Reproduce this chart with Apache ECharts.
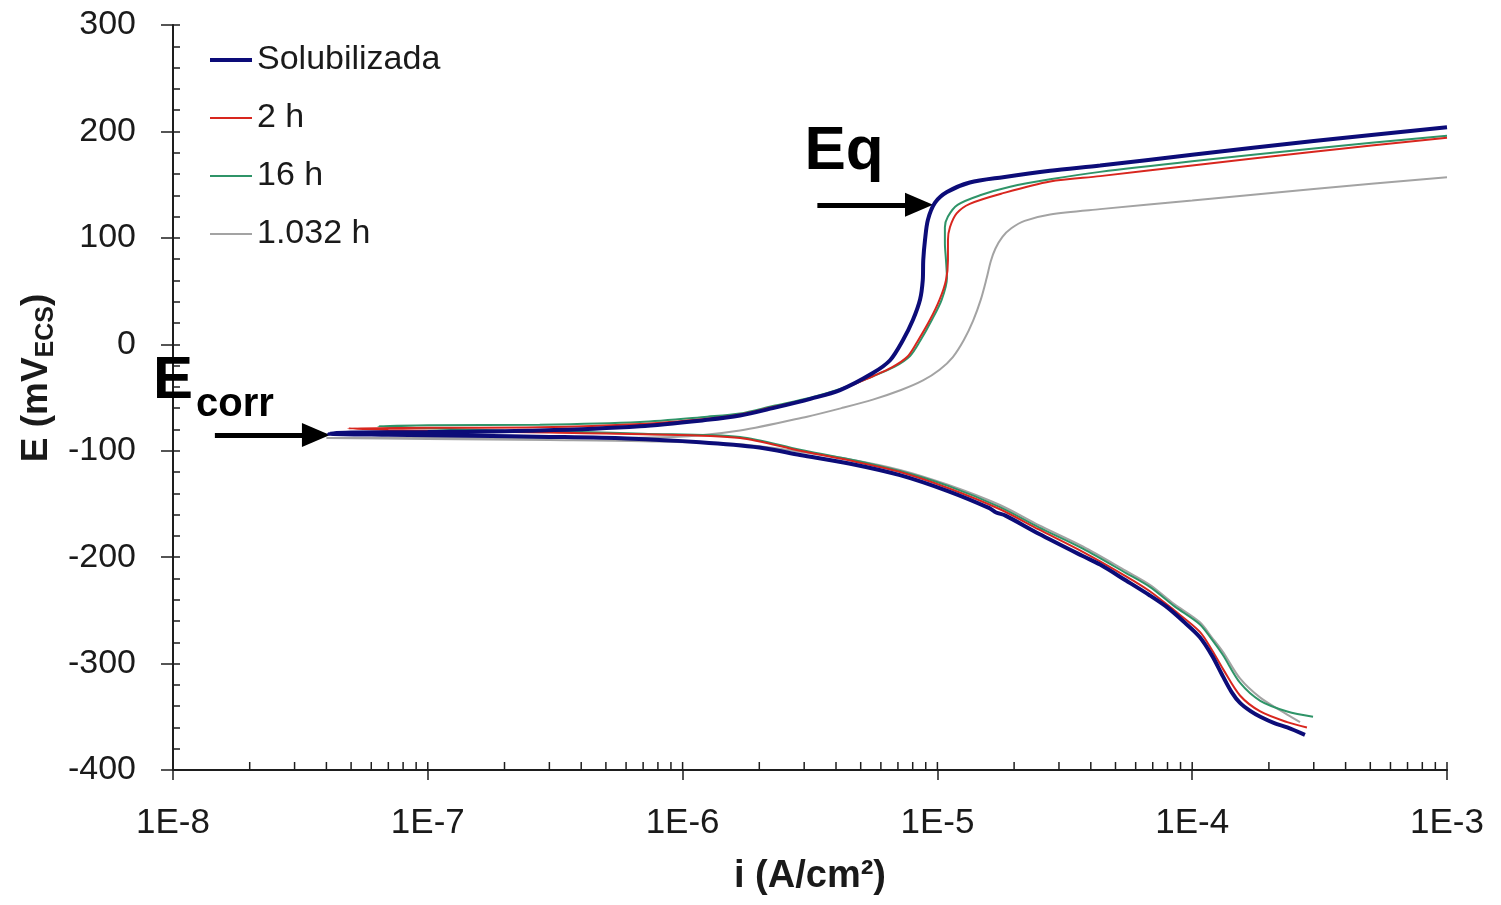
<!DOCTYPE html>
<html>
<head>
<meta charset="utf-8">
<script src="https://cdn.jsdelivr.net/npm/echarts@6/dist/echarts.min.js"></script>
<style>
  html, body { margin: 0; padding: 0; background: #ffffff; }
  #chart { width: 1501px; height: 905px; }
</style>
</head>
<body>
<div id="chart"></div>
<script>
// Polarization curves: current density i (A/cm²) vs potential E (mV vs ECS)
// Each curve is stored as its cathodic branch (from Ecorr towards high current)
// and its anodic branch (from Ecorr towards high current).

const seriesNames = ['Solubilizada', '2 h', '16 h', '1.032 h'];
const xTickLabels = ['1E-8', '1E-7', '1E-6', '1E-5', '1E-4', '1E-3'];
const yTickLabels = [-400, -300, -200, -100, 0, 100, 200, 300];

const solCathodic = [
  [4.1e-8, -84], [7e-8, -85], [1.5e-7, -86], [3e-7, -87], [6e-7, -88.5], [1.17e-6, -92],
  [2e-6, -97], [2.89e-6, -104], [4.5e-6, -112], [7.13e-6, -123], [1.1e-5, -138],
  [1.6e-5, -154], [1.7e-5, -158], [1.85e-5, -161], [2.5e-5, -178], [3.72e-5, -199],
  [4.35e-5, -207], [5.5e-5, -222], [6.82e-5, -236], [7.96e-5, -247], [9.2e-5, -260],
  [1.07e-4, -275], [1.2e-4, -293], [1.32e-4, -312], [1.43e-4, -327], [1.54e-4, -337],
  [1.7e-4, -345], [1.85e-4, -350], [2.1e-4, -356], [2.36e-4, -360], [2.77e-4, -367]
];
const solAnodic = [
  [4.1e-8, -84], [5e-8, -83], [1e-7, -82.5], [2.75e-7, -81], [6.8e-7, -77], [1.25e-6, -71],
  [1.68e-6, -67], [2.26e-6, -60], [3.2e-6, -51], [4.15e-6, -43], [5.58e-6, -27],
  [6.52e-6, -15], [7.33e-6, 4], [8.02e-6, 23], [8.55e-6, 42], [8.76e-6, 60], [8.8e-6, 79],
  [8.94e-6, 98], [9.18e-6, 117], [9.79e-6, 133], [1.09e-5, 143], [1.34e-5, 152],
  [1.81e-5, 157], [2.77e-5, 163], [4.35e-5, 168], [1e-4, 178], [3e-4, 191], [1e-3, 204]
];

const h2Cathodic = [
  [4.87e-8, -79], [7e-8, -80.5], [1.5e-7, -82], [3e-7, -83], [7e-7, -84.5], [1.68e-6, -88],
  [2.89e-6, -100], [4.5e-6, -109], [7.13e-6, -120], [1.1e-5, -135], [1.76e-5, -155],
  [2.5e-5, -174], [3.72e-5, -195], [5.5e-5, -218], [6.82e-5, -232], [8.5e-5, -250],
  [1.07e-4, -270], [1.2e-4, -288], [1.32e-4, -305], [1.54e-4, -330], [1.85e-4, -345],
  [2.36e-4, -355], [2.82e-4, -360]
];
const h2Anodic = [
  [4.87e-8, -79], [1e-7, -78.5], [2.75e-7, -78], [6.8e-7, -75], [1.25e-6, -70], [1.68e-6, -66],
  [2.26e-6, -59], [3.2e-6, -51], [4.15e-6, -43], [5.58e-6, -30], [6.6e-6, -22], [7.6e-6, -12],
  [8.32e-6, 2], [9.35e-6, 23], [1.02e-5, 42], [1.08e-5, 60], [1.1e-5, 79], [1.1e-5, 98],
  [1.12e-5, 110], [1.19e-5, 123], [1.34e-5, 132], [1.81e-5, 142], [2.77e-5, 153],
  [4.35e-5, 158], [1e-4, 168], [3e-4, 181], [1e-3, 194]
];

const h16Cathodic = [
  [6.38e-8, -77], [1e-7, -79], [2e-7, -81], [4e-7, -82.5], [7e-7, -84], [1.68e-6, -87],
  [2.89e-6, -99], [4.5e-6, -108], [7.13e-6, -119], [1.1e-5, -133], [1.76e-5, -153],
  [2.5e-5, -172], [3.72e-5, -192], [5.5e-5, -215], [6.82e-5, -228], [8.5e-5, -246],
  [1.07e-4, -263], [1.2e-4, -278], [1.32e-4, -292], [1.54e-4, -318], [1.85e-4, -335],
  [2.36e-4, -345], [2.98e-4, -350]
];
const h16Anodic = [
  [6.38e-8, -77], [1e-7, -76], [2.75e-7, -75.5], [6.8e-7, -73], [1.25e-6, -68], [1.68e-6, -65],
  [2.26e-6, -58], [3.2e-6, -50], [4.15e-6, -42], [5.58e-6, -30], [6.8e-6, -21], [7.81e-6, -11],
  [8.55e-6, 3], [9.52e-6, 23], [1.04e-5, 42], [1.09e-5, 62], [1.08e-5, 80], [1.07e-5, 95],
  [1.07e-5, 110], [1.1e-5, 120], [1.2e-5, 131], [1.47e-5, 140], [1.93e-5, 148],
  [2.77e-5, 155], [4.35e-5, 162], [1e-4, 172], [3e-4, 184], [1e-3, 196]
];

const h1032Cathodic = [
  [4e-8, -88], [1e-7, -89], [3e-7, -90], [7e-7, -91], [1.68e-6, -94], [2.89e-6, -101],
  [4.5e-6, -108], [7.13e-6, -118], [1.1e-5, -132], [1.76e-5, -151], [2.5e-5, -170],
  [3.72e-5, -190], [5.5e-5, -213], [6.82e-5, -226], [8.5e-5, -244], [1.07e-4, -261],
  [1.2e-4, -276], [1.32e-4, -289], [1.54e-4, -314], [1.85e-4, -332], [2.36e-4, -348],
  [2.65e-4, -355]
];
const h1032Anodic = [
  [4e-8, -88], [1e-7, -88], [3e-7, -88], [9.2e-7, -87], [1.68e-6, -81], [3.08e-6, -68],
  [4.2e-6, -60], [5.58e-6, -52], [7.2e-6, -43], [8.78e-6, -34], [1.02e-5, -24],
  [1.15e-5, -12], [1.27e-5, 4], [1.38e-5, 22], [1.48e-5, 42], [1.56e-5, 62], [1.62e-5, 78],
  [1.69e-5, 90], [1.8e-5, 101], [1.95e-5, 109], [2.2e-5, 116], [2.77e-5, 122],
  [4.35e-5, 127], [1e-4, 135], [3e-4, 146], [1e-3, 157]
];

// Annotation anchors (data space)
const ecorrArrow = [[1.46e-8, -85.2], [3.64e-8, -85.2]];
const eqArrow = [[3.38e-6, 131], [8.47e-6, 131]];
const eqLabelAt = [4.3e-6, 181];
const ecorrELabelAt = [1e-8, -35];
const ecorrSubLabelAt = [1.75e-8, -57];

const X_MIN = 1e-8, X_MAX = 1e-3, Y_MIN = -400, Y_MAX = 300;
const FONT = "'Liberation Sans', Arial, sans-serif";
const AXIS_COLOR = '#1e1e1e';
const TEXT_COLOR = '#1a1a1a';

// full sweep: cathodic end -> Ecorr -> anodic end
function sweep(cathodic, anodic) {
  return cathodic.slice().reverse().concat(anodic.slice(1));
}

// log-axis ticks at 1..9 × each decade, drawn on the inside of the x axis
const xInnerTicks = [];
for (let e = -8; e < -3; e++) {
  for (let m = 1; m <= 9; m++) xInnerTicks.push([m * Math.pow(10, e), Y_MIN]);
}
xInnerTicks.push([X_MAX, Y_MIN]);

const curves = [
  { name: seriesNames[0], data: sweep(solCathodic, solAnodic), color: '#0c0c78', width: 4, z: 6 },
  { name: seriesNames[1], data: sweep(h2Cathodic, h2Anodic), color: '#d8261e', width: 2, z: 5 },
  { name: seriesNames[2], data: sweep(h16Cathodic, h16Anodic), color: '#2f9468', width: 2, z: 4 },
  { name: seriesNames[3], data: sweep(h1032Cathodic, h1032Anodic), color: '#a3a3a3', width: 2, z: 3 }
];

const chart = echarts.init(document.getElementById('chart'), null, { renderer: 'canvas' });

const tickLine = { color: AXIS_COLOR, width: 1.5 };

const option = {
  animation: false,
  backgroundColor: '#ffffff',
  grid: { left: 173, right: 54, top: 25, bottom: 135, containLabel: false },
  legend: {
    data: curves.map(c => ({ name: c.name, lineStyle: { color: c.color, width: c.width } })),
    orient: 'vertical',
    left: 203,
    top: 37,
    itemWidth: 42,
    itemHeight: 20,
    itemGap: 22,
    itemStyle: { opacity: 0, borderWidth: 0 },
    textStyle: { fontSize: 34, color: TEXT_COLOR, fontFamily: FONT, lineHeight: 36 }
  },
  xAxis: {
    type: 'log',
    logBase: 10,
    min: X_MIN,
    max: X_MAX,
    name: 'i (A/cm²)',
    nameLocation: 'middle',
    nameGap: 88,
    nameTextStyle: { fontSize: 38, fontWeight: 'bold', color: TEXT_COLOR, fontFamily: FONT },
    axisLine: { show: true, onZero: false, lineStyle: { color: AXIS_COLOR, width: 2 } },
    axisTick: { show: true, inside: false, length: 10, lineStyle: tickLine },
    minorTick: { show: false },
    splitLine: { show: false },
    axisLabel: {
      margin: 36,
      fontSize: 35,
      color: TEXT_COLOR,
      fontFamily: FONT,
      formatter: v => {
        const k = Math.round(Math.log10(v)) + 8;
        return xTickLabels[k] !== undefined ? xTickLabels[k] : '';
      }
    }
  },
  yAxis: [
    {
      type: 'value',
      min: Y_MIN,
      max: Y_MAX,
      interval: 100,
      position: 'left',
      axisLine: { show: true, onZero: false, lineStyle: { color: AXIS_COLOR, width: 2 } },
      axisTick: { show: true, inside: false, length: 12, lineStyle: tickLine },
      splitLine: { show: false },
      axisLabel: {
        margin: 37,
        fontSize: 34,
        color: TEXT_COLOR,
        fontFamily: FONT,
        formatter: v => (yTickLabels.indexOf(v) >= 0 ? String(v) : '')
      }
    },
    {
      type: 'value',
      min: Y_MIN,
      max: Y_MAX,
      interval: 100,
      position: 'left',
      offset: 0,
      axisLine: { show: false },
      axisLabel: { show: false },
      splitLine: { show: false },
      axisTick: { show: true, inside: true, length: 7, lineStyle: tickLine },
      minorTick: { show: true, splitNumber: 5, length: 7, lineStyle: tickLine }
    }
  ],
  graphic: [
    {
      type: 'text',
      x: 37,
      y: 378,
      rotation: Math.PI / 2,
      style: {
        text: '{a|E (mV}{s|ECS}{a|)}',
        align: 'center',
        verticalAlign: 'middle',
        fill: TEXT_COLOR,
        rich: {
          a: { fontSize: 37, fontWeight: 'bold', fontFamily: FONT, lineHeight: 44, verticalAlign: 'middle', fill: TEXT_COLOR },
          s: { fontSize: 25, fontWeight: 'bold', fontFamily: FONT, lineHeight: 24, verticalAlign: 'bottom', fill: TEXT_COLOR }
        }
      }
    }
  ],
  series: curves.map(c => ({
    type: 'line',
    name: c.name,
    data: c.data,
    showSymbol: false,
    symbol: 'none',
    smooth: 0.3,
    z: c.z,
    color: c.color,
    lineStyle: { color: c.color, width: c.width },
    emphasis: { disabled: true }
  })).concat([
    {
      type: 'custom',
      name: 'xInnerTicks',
      data: xInnerTicks,
      silent: true,
      clip: false,
      z: 2,
      encode: { x: 0, y: 1 },
      renderItem: (params, api) => {
        const p = api.coord([api.value(0), api.value(1)]);
        return {
          type: 'line',
          shape: { x1: p[0], y1: p[1], x2: p[0], y2: p[1] - 8 },
          style: { stroke: AXIS_COLOR, lineWidth: 1.5 }
        };
      }
    },
    {
      type: 'line',
      name: 'annotations',
      data: [],
      silent: true,
      z: 8,
      markLine: {
        silent: true,
        animation: false,
        symbol: ['none', 'triangle'],
        symbolSize: [24, 28],
        label: { show: false },
        lineStyle: { color: '#000000', width: 5, type: 'solid' },
        emphasis: { disabled: true },
        data: [
          [{ coord: ecorrArrow[0] }, { coord: ecorrArrow[1] }],
          [{ coord: eqArrow[0] }, { coord: eqArrow[1] }]
        ]
      },
      markPoint: {
        silent: true,
        animation: false,
        symbol: 'circle',
        symbolSize: 1,
        itemStyle: { color: 'rgba(0,0,0,0)' },
        label: { show: true, position: 'inside', color: '#000000', fontFamily: FONT, fontWeight: 'bold' },
        data: [
          { coord: eqLabelAt, label: { formatter: 'Eq', fontSize: 62 } },
          { coord: ecorrELabelAt, label: { formatter: 'E', fontSize: 60 } },
          { coord: ecorrSubLabelAt, label: { formatter: 'corr', fontSize: 40 } }
        ]
      }
    }
  ])
};

chart.setOption(option);
</script>
</body>
</html>
